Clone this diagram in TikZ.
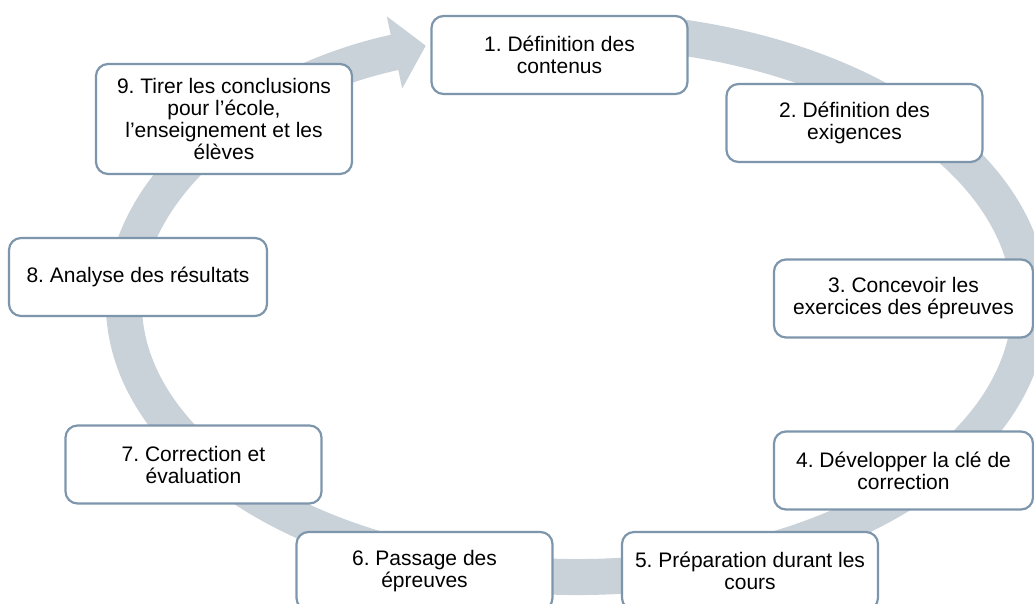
\documentclass[tikz,border=0pt]{standalone}
\usepackage{fontspec}
\setmainfont{Liberation Sans}
\usepackage{tikz}
\usetikzlibrary{arrows.meta, calc}
\frenchspacing

\begin{document}
\begin{tikzpicture}[x=1pt, y=1pt,
  etape/.style={draw=bordure, line width=2.2pt, fill=white, rounded corners=12pt,
    minimum width=256pt, minimum height=78pt, align=center, inner sep=2pt,
    font=\fontsize{21}{22}\selectfont}]
% --- CORES E MOLDURA ---
\definecolor{bordure}{HTML}{7E96AC}
\definecolor{anneau}{HTML}{C9D1D9}
\useasboundingbox (0,0) rectangle (1034,603);
\clip (0,0) rectangle (1034,603);

% LAYER 1: Anel do ciclo (seta larga)
\coordinate (centre) at (577,299.5);
\draw[anneau, line width=36pt, -{Triangle[width=72pt, length=32pt]}]
  ($(centre)+(79:453 and 273.5)$) arc[start angle=79, end angle=-250.5, x radius=453pt, y radius=273.5pt];

% LAYER 2: Etapas
\node[etape] (def1) at (559.5,548) {1. Définition des\\contenus};
\node[etape] (def2) at (854.5,480) {2. Définition des\\exigences};
\node[etape, minimum width=259pt] (conc3) at (903.5,304.5) {3. Concevoir les\\exercices des épreuves};
\node[etape, minimum width=259pt] (dev4) at (903.5,132.5) {4. Développer la clé de\\correction};
\node[etape] (prep5) at (750,32) {5. Préparation durant les\\cours};
\node[etape] (pass6) at (424.5,32) {6. Passage des\\épreuves};
\node[etape] (corr7) at (193.5,138.5) {7. Correction et\\évaluation};
\node[etape, minimum width=258pt] (anal8) at (138,326) {8. Analyse des résultats};
\node[etape, minimum height=110pt] (concl9) at (224,484) {9. Tirer les conclusions\\pour l’école,\\l’enseignement et les\\élèves};
\end{tikzpicture}
\end{document}
